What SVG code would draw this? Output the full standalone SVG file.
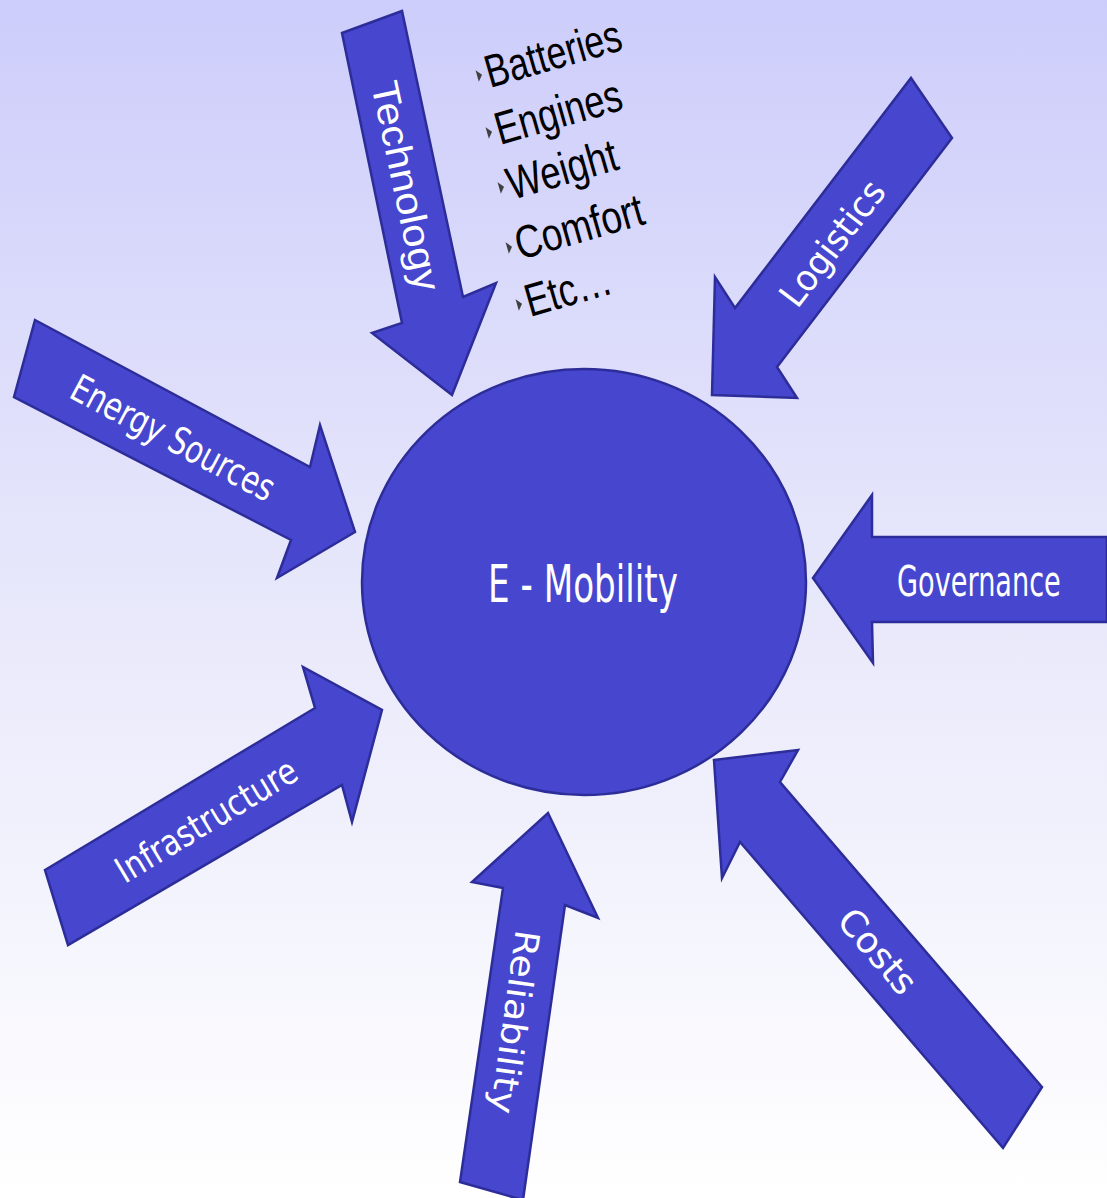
<svg xmlns="http://www.w3.org/2000/svg" width="1107" height="1198" viewBox="0 0 1107 1198">
<defs>
<linearGradient id="bg" x1="0" y1="0" x2="0" y2="1">
<stop offset="0" stop-color="#cdcdfb"/>
<stop offset="0.5" stop-color="#e8e8fb"/>
<stop offset="1" stop-color="#ffffff"/>
</linearGradient>
<style>
.shape{fill:#4646cf;stroke:#2d2d99;stroke-width:2.5;stroke-linejoin:miter}
.lbl{fill:#ffffff;font-family:"DejaVu Sans",Verdana,sans-serif}
.lbla{fill:#ffffff;font-family:"Liberation Sans",Arial,sans-serif}
.item{fill:#000000;font-family:"Liberation Sans",Arial,sans-serif;font-size:46px}
.bul{fill:#404040}
</style>
</defs>
<rect x="0" y="0" width="1107" height="1198" fill="url(#bg)"/>

<g id="connectors">
<g id="arrow-technology">
<polygon class="shape" points="342,33 402,11 463,297 496,283 452,395 372,333 402,323"/>
<text class="lbla" font-size="38" text-anchor="middle" transform="translate(406,186) rotate(78) scale(1.09,1)" x="0" y="13" textLength="196" lengthAdjust="spacingAndGlyphs">Technology</text>
</g>
<g id="arrow-energy">
<polygon class="shape" points="35,320 310,467 320,425 355,532 277,578 291,540 14,397"/>
<text class="lbl" font-size="38" text-anchor="middle" transform="translate(173,438) rotate(28) scale(0.753,1)" x="0" y="13" textLength="299" lengthAdjust="spacingAndGlyphs">Energy Sources</text>
</g>
<g id="arrow-logistics">
<polygon class="shape" points="911,78 952,138 777,367 797,398 712,395 715,277 735,308"/>
<text class="lbl" font-size="36" text-anchor="middle" transform="translate(832,243) rotate(-52.6) scale(0.95,1)" x="0" y="13" textLength="156" lengthAdjust="spacingAndGlyphs">Logistics</text>
</g>
<g id="arrow-governance">
<polygon class="shape" points="1107,537 872,537 872,495 813,578 873,663 872,622 1107,622"/>
<text class="lbl" font-size="42" transform="translate(897,596) scale(0.645,1)" x="0" y="0" textLength="254" lengthAdjust="spacingAndGlyphs">Governance</text>
</g>
<g id="arrow-infrastructure">
<polygon class="shape" points="45,870 315,708 303,667 382,710 352,822 342,785 68,945"/>
<text class="lbl" font-size="36" text-anchor="middle" transform="translate(206,820) rotate(-31) scale(0.83,1)" x="0" y="13" textLength="247" lengthAdjust="spacingAndGlyphs">Infrastructure</text>
</g>
<g id="arrow-reliability">
<polygon class="shape" points="548,813 598,918 565,905 523,1200 460,1182 503,888 472,882"/>
<text class="lbl" font-size="34" text-anchor="middle" transform="translate(515,1022) rotate(98) scale(1.1,1)" x="0" y="12" textLength="168" lengthAdjust="spacingAndGlyphs">Reliability</text>
</g>
<g id="arrow-costs">
<polygon class="shape" points="714,760 798,750 780,782 1042,1087 1003,1148 740,842 722,878"/>
<text class="lbl" font-size="36" text-anchor="middle" transform="translate(878,951) rotate(49.3)" x="0" y="13" textLength="100" lengthAdjust="spacingAndGlyphs">Costs</text>
</g>
</g>

<g id="node-emobility">
<ellipse class="shape" cx="584" cy="582" rx="222" ry="213"/>
<text class="lbl" font-size="52" transform="translate(488,602) scale(0.657,1)" x="0" y="0" textLength="289" lengthAdjust="spacingAndGlyphs">E - Mobility</text>
</g>

<g id="node-list">
<g transform="translate(490,88) rotate(-16)">
<polygon class="bul" points="-9,-21 -4,-15 -9,-9"/>
<text class="item" transform="scale(0.78,1)" x="0" y="0" textLength="179.5" lengthAdjust="spacingAndGlyphs">Batteries</text>
</g>
<g transform="translate(500,145) rotate(-16)">
<polygon class="bul" points="-9,-21 -4,-15 -9,-9"/>
<text class="item" transform="scale(0.78,1)" x="0" y="0" textLength="166.7" lengthAdjust="spacingAndGlyphs">Engines</text>
</g>
<g transform="translate(512,200) rotate(-16)">
<polygon class="bul" points="-9,-21 -4,-15 -9,-9"/>
<text class="item" transform="scale(0.78,1)" x="0" y="0" textLength="144.9" lengthAdjust="spacingAndGlyphs">Weight</text>
</g>
<g transform="translate(520,260) rotate(-16)">
<polygon class="bul" points="-9,-21 -4,-15 -9,-9"/>
<text class="item" transform="scale(0.78,1)" x="0" y="0" textLength="169.2" lengthAdjust="spacingAndGlyphs">Comfort</text>
</g>
<g transform="translate(530,317) rotate(-16)">
<polygon class="bul" points="-9,-21 -4,-15 -9,-9"/>
<text class="item" transform="scale(0.78,1)" x="0" y="0" textLength="112.8" lengthAdjust="spacingAndGlyphs">Etc…</text>
</g>
</g>
</svg>
